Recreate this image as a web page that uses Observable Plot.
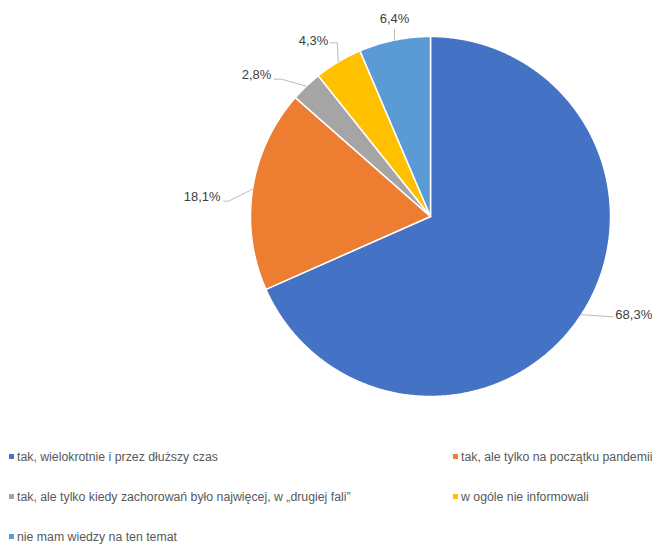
<!DOCTYPE html>
<html>
<head>
<meta charset="utf-8">
<script src="https://cdn.jsdelivr.net/npm/d3@7"></script>
<script src="https://cdn.jsdelivr.net/npm/@observablehq/plot@0.6"></script>
<style>
  html, body { margin: 0; padding: 0; background: #fff; }
  #chart { position: relative; width: 655px; height: 545px; overflow: hidden; font-family: "Liberation Sans", Arial, sans-serif; }
  #legend { position: absolute; left: 0; top: 437px; width: 655px; }
  .item { position: absolute; height: 40px; line-height: 40px; font-size: 12.3px; color: #595959; white-space: nowrap; }
  .sw { display: inline-block; width: 5px; height: 5px; margin-right: 3px; vertical-align: middle; position: relative; top: -1px; }
</style>
</head>
<body>
<div id="chart"><div id="plot"></div><div id="legend"></div></div>
<script>
const categories = [
  "tak, wielokrotnie i przez dłuższy czas",
  "tak, ale tylko na początku pandemii",
  "tak, ale tylko kiedy zachorowań było najwięcej, w „drugiej fali”",
  "w ogóle nie informowali",
  "nie mam wiedzy na ten temat"
];
const values = [68.3, 18.1, 2.8, 4.3, 6.4];
const colors = ["#4472C4", "#ED7D31", "#A5A5A5", "#FFC000", "#5B9BD5"];

// layout constants
const W = 655, H = 437, cx = 430, cy = 216, R = 180;
// label leader geometry per slice (pixel offsets from slice edge midpoint): elbow, end, text
const leaderLayout = [
  {elbow: [30, 2], end: [32, 2], text: [34, 0], anchor: "start"},
  {elbow: [-24, 12], end: [-29, 12], text: [-32, 8], anchor: "end"},
  {elbow: [-25, -7], end: [-32, -7], text: [-35, -11], anchor: "end"},
  {elbow: [-1, -19], end: [-8, -19], text: [-10, -21], anchor: "end"},
  {elbow: [0, -11], end: [0, -11], text: [0, -21], anchor: "middle"}
];

const total = d3.sum(values);
const fmt = v => v.toFixed(1).replace(".", ",") + "%";

// slice polygons in unit-circle coordinates (y downward)
const poly = [];
const labelRows = [];
const leaderRows = [];
let acc = 0;
values.forEach((v, i) => {
  const a0 = acc / total * 2 * Math.PI;
  acc += v;
  const a1 = acc / total * 2 * Math.PI;
  const cat = categories[i];
  poly.push({cat, x: 0, y: 0, k: 0});
  const n = Math.max(2, Math.ceil((a1 - a0) / (Math.PI / 360)));
  for (let j = 0; j <= n; j++) {
    const a = a0 + (a1 - a0) * j / n;
    poly.push({cat, x: Math.sin(a), y: -Math.cos(a), k: j + 1});
  }
  const am = (a0 + a1) / 2;
  const px = Math.sin(am), py = -Math.cos(am);
  const L = leaderLayout[i];
  leaderRows.push({i, x: px, y: py});
  leaderRows.push({i, x: px + L.elbow[0] / R, y: py + L.elbow[1] / R});
  leaderRows.push({i, x: px + L.end[0] / R, y: py + L.end[1] / R});
  labelRows.push({label: fmt(v), x: px + L.text[0] / R, y: py + L.text[1] / R, anchor: L.anchor});
});

const plot = Plot.plot({
  width: W,
  height: H,
  margin: 0,
  x: {domain: [-cx / R, (W - cx) / R], range: [0, W], axis: null},
  y: {domain: [-cy / R, (H - cy) / R], range: [0, H], axis: null},
  color: {domain: categories, range: colors},
  style: {fontFamily: "'Liberation Sans', Arial, sans-serif", background: "#fff"},
  marks: [
    Plot.line(poly, {x: "x", y: "y", z: "cat", fill: "cat", stroke: "white", strokeWidth: 1.5, curve: "linear-closed", strokeLinejoin: "round"}),
    Plot.line(leaderRows, {x: "x", y: "y", z: "i", stroke: "#A6A6A6", strokeWidth: 0.75}),
    ...["start", "end", "middle"].map(anc =>
      Plot.text(labelRows.filter(d => d.anchor === anc), {x: "x", y: "y", text: "label", textAnchor: anc, fontSize: 13, fill: "#404040", lineAnchor: "middle"})
    )
  ]
});
document.getElementById("plot").appendChild(plot);

// legend
const legendPos = [[9, 0], [453, 0], [9, 1], [453, 1], [9, 2]];
const legend = document.getElementById("legend");
categories.forEach((c, i) => {
  const el = document.createElement("div");
  el.className = "item";
  el.style.left = legendPos[i][0] + "px";
  el.style.top = (legendPos[i][1] * 40) + "px";
  const sw = document.createElement("span");
  sw.className = "sw";
  sw.style.background = colors[i];
  el.appendChild(sw);
  el.appendChild(document.createTextNode(c));
  legend.appendChild(el);
});
</script>
</body>
</html>
